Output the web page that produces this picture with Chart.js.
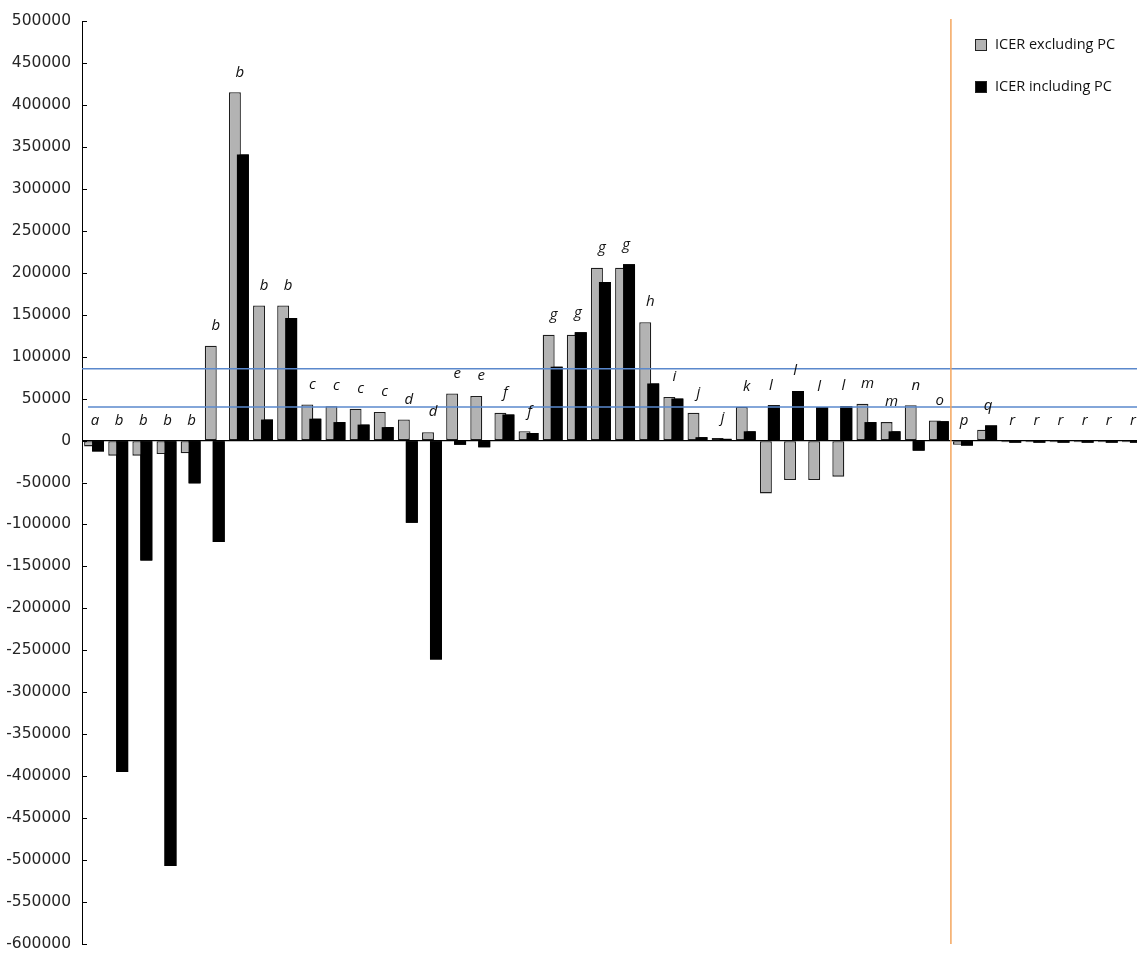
<!DOCTYPE html>
<html>
<head>
<meta charset="utf-8">
<script src="https://cdn.jsdelivr.net/npm/chart.js@4/dist/chart.umd.min.js"></script>
<style>
  html, body { margin: 0; padding: 0; background: #fff; overflow: hidden; }
  #wrap { position: relative; width: 1146px; height: 954px; }
</style>
</head>
<body>
<div id="wrap"><canvas id="c"></canvas></div>
<script>
// Study group letters shown above each pair of bars
const groupLetters = ['a','b','b','b','b','b','b','b','b','c','c','c','c','d','d','e','e','f','f',
  'g','g','g','g','h','i','j','j','k','l','l','l','l','m','m','n','o','p','q','r','r','r','r','r','r'];

// ICER values per comparison
const icerExcludingPC = [-7000,-18000,-18000,-16000,-15000,113000,415000,161000,161000,43000,41000,38000,34000,
  25000,10000,56000,53000,33000,11000,126000,126000,206000,206000,141000,52000,33000,3000,40000,
  -63000,-47000,-47000,-43000,44000,22000,42000,24000,-5000,13000,-2000,-2000,-2000,-2000,-2000,-2000];
const icerIncludingPC = [-13000,-395000,-143000,-507000,-51000,-121000,341000,25000,146000,26000,22000,19000,16000,
  -98000,-261000,-5000,-8000,31000,9000,88000,129000,189000,210000,68000,50000,4000,2000,11000,
  42000,59000,40000,41000,22000,11000,-12000,23000,-6000,18000,-2500,-2500,-2500,-2500,-2500,-2500];

// Y axis range and step
const yMin = -600000;
const yMax = 500000;
const yStep = 50000;

// Willingness-to-pay thresholds (horizontal reference lines)
const thresholds = [85500, 40000];
// Divider falls between these two comparison indices
const dividerBetween = [35, 36];

const seriesNames = ['ICER excluding PC', 'ICER including PC'];
const seriesColors = ['#b3b3b3', '#000000'];

// Draw the "including" bars over the "excluding" bars where they overlap
const frontBars = {
  id: 'frontBars',
  afterDatasetsDraw(chart) {
    chart.getDatasetMeta(1).controller.draw();
  }
};

// Inside tick marks, reference lines, divider, group letters, legend
const overlay = {
  id: 'overlay',
  afterDraw(chart) {
    const { ctx, chartArea: a, scales: { x, y } } = chart;
    ctx.save();
    ctx.strokeStyle = '#000';
    ctx.lineWidth = 1;
    for (let v = yMin; v <= yMax; v += yStep) {
      const py = Math.round(y.getPixelForValue(v)) + 0.5;
      ctx.beginPath();
      ctx.moveTo(a.left, py);
      ctx.lineTo(a.left + 5, py);
      ctx.stroke();
    }
    ctx.strokeStyle = '#5a88cc';
    ctx.lineWidth = 1.4;
    thresholds.forEach((t, i) => {
      const py = y.getPixelForValue(t);
      ctx.beginPath();
      ctx.moveTo(a.left + (i === 1 ? 6 : 0), py);
      ctx.lineTo(a.right, py);
      ctx.stroke();
    });
    const dx = (x.getPixelForValue(dividerBetween[0]) + x.getPixelForValue(dividerBetween[1])) / 2;
    ctx.strokeStyle = '#f4a65e';
    ctx.lineWidth = 1.5;
    ctx.beginPath();
    ctx.moveTo(dx, a.top - 2);
    ctx.lineTo(dx, a.bottom);
    ctx.stroke();
    ctx.fillStyle = '#111';
    ctx.font = 'italic 15px "Open Sans"';
    ctx.textAlign = 'center';
    ctx.textBaseline = 'middle';
    groupLetters.forEach((l, i) => {
      const top = Math.max(0, icerExcludingPC[i], icerIncludingPC[i]);
      ctx.fillText(l, x.getPixelForValue(i) + 1, y.getPixelForValue(top) - 20);
    });
    ctx.font = '14.5px "Open Sans"';
    ctx.textAlign = 'left';
    seriesNames.forEach((n, i) => {
      const ly = 45 + i * 42;
      ctx.fillStyle = seriesColors[i];
      ctx.fillRect(975, ly - 6, 12, 12);
      ctx.strokeStyle = '#222';
      ctx.lineWidth = 1;
      ctx.strokeRect(975.5, ly - 5.5, 11, 11);
      ctx.fillStyle = '#111';
      ctx.fillText(n, 995, ly);
    });
    ctx.restore();
  }
};

new Chart(document.getElementById('c'), {
  type: 'bar',
  data: {
    labels: groupLetters,
    datasets: [
      {
        label: seriesNames[0],
        data: icerExcludingPC,
        backgroundColor: seriesColors[0],
        borderColor: '#1e1e1e',
        borderWidth: 1.3,
        borderSkipped: false,
        categoryPercentage: 0.66,
        barPercentage: 1.5
      },
      {
        label: seriesNames[1],
        data: icerIncludingPC,
        backgroundColor: seriesColors[1],
        borderColor: '#000',
        borderWidth: 0,
        categoryPercentage: 0.66,
        barPercentage: 1.5
      }
    ]
  },
  options: {
    responsive: true,
    maintainAspectRatio: false,
    animation: false,
    layout: { padding: { top: 21, bottom: 10, left: 0, right: 2 } },
    plugins: { legend: { display: false }, tooltip: { enabled: false } },
    scales: {
      x: { display: false },
      y: {
        min: yMin,
        max: yMax,
        afterFit(scale) {
          scale.width = 82;
          scale.paddingTop = 0;
          scale.paddingBottom = 0;
        },
        ticks: {
          stepSize: yStep,
          padding: 11,
          color: '#262626',
          font: { family: 'DejaVu Sans', size: 15.5 },
          callback: v => String(v)
        },
        grid: {
          drawTicks: false,
          color: ctx => (ctx.tick && ctx.tick.value === 0 ? '#000' : 'rgba(0,0,0,0)'),
          lineWidth: 1.2
        },
        border: { display: true, color: '#000', width: 1 }
      }
    }
  },
  plugins: [frontBars, overlay]
});
</script>
</body>
</html>
